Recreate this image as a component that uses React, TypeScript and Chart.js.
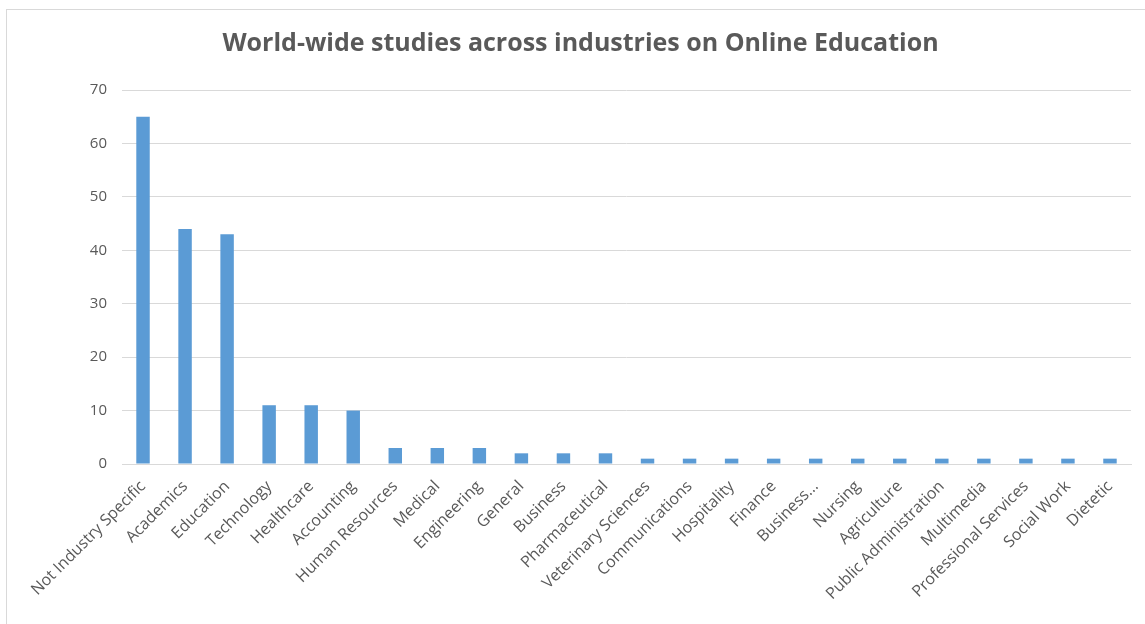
import React, { useEffect, useRef } from "react";
import { Chart, registerables } from "chart.js";

Chart.register(...registerables);

const categories = [
  "Not Industry Specific",
  "Academics",
  "Education",
  "Technology",
  "Healthcare",
  "Accounting",
  "Human Resources",
  "Medical",
  "Engineering",
  "General",
  "Business",
  "Pharmaceutical",
  "Veterinary Sciences",
  "Communications",
  "Hospitality",
  "Finance",
  "Business...",
  "Nursing",
  "Agriculture",
  "Public Administration",
  "Multimedia",
  "Professional Services",
  "Social Work",
  "Dietetic",
];

const studies = [65, 44, 43, 11, 11, 10, 3, 3, 3, 2, 2, 2, 1, 1, 1, 1, 1, 1, 1, 1, 1, 1, 1, 1];

const yTicks = [0, 10, 20, 30, 40, 50, 60, 70];

const titleText = "World-wide studies across industries on Online Education";

export default function App() {
  const ref = useRef<HTMLCanvasElement | null>(null);

  useEffect(() => {
    document.body.style.margin = "0";
    const canvas = ref.current;
    if (!canvas) return;
    const chart = new Chart(canvas, {
      type: "bar",
      data: {
        labels: categories,
        datasets: [
          {
            label: "Studies",
            data: studies,
            backgroundColor: "#5B9BD5",
            borderWidth: 0,
            categoryPercentage: 1,
            barPercentage: 0.32,
          },
        ],
      },
      options: {
        animation: false,
        responsive: false,
        layout: { padding: { left: 30, right: 14, top: 0, bottom: 0 } },
        plugins: {
          legend: { display: false },
          tooltip: { enabled: false },
          title: {
            display: true,
            text: titleText,
            color: "#595959",
            font: { family: "'Open Sans', sans-serif", size: 25, weight: "bold", lineHeight: 1.2 },
            padding: { top: 29, bottom: 31 },
          },
        },
        scales: {
          x: {
            grid: { display: false, drawTicks: false },
            border: { display: true, color: "#D9D9D9", width: 1 },
            ticks: {
              color: "#595959",
              font: { family: "'Open Sans', sans-serif", size: 16 },
              minRotation: 45,
              maxRotation: 45,
              autoSkip: false,
              padding: 13,
            },
            afterFit: (scale: any) => {
              scale.height = 160;
            },
          },
          y: {
            min: 0,
            max: 70,
            afterBuildTicks: (scale: any) => {
              scale.ticks = yTicks.map((v) => ({ value: v }));
            },
            grid: { color: "#D9D9D9", drawTicks: false, lineWidth: 1 },
            border: { display: false },
            ticks: {
              color: "#595959",
              font: { family: "'Open Sans', sans-serif", size: 15 },
              padding: 15,
            },
            afterFit: (scale: any) => {
              scale.width = 92;
            },
          },
        },
      },
    });
    return () => chart.destroy();
  }, []);

  return (
    <div
      style={{
        position: "relative",
        width: 1145,
        height: 624,
        overflow: "hidden",
        background: "#FFFFFF",
      }}
    >
      <div
        style={{
          position: "absolute",
          left: 6,
          top: 9,
          width: 1160,
          height: 640,
          border: "1px solid #D9D9D9",
          boxSizing: "border-box",
        }}
      />
      <canvas
        ref={ref}
        width={1145}
        height={624}
        style={{ position: "absolute", left: 0, top: 0 }}
      />
    </div>
  );
}
